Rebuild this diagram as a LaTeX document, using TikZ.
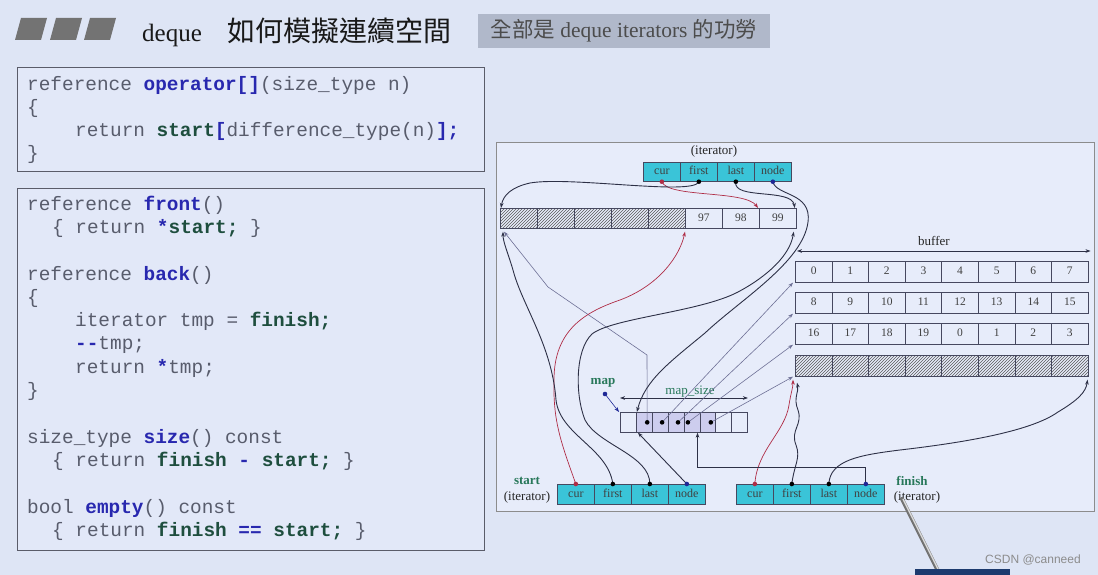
\documentclass[tikz,border=0pt]{standalone}
\usepackage{fontspec}
\setmainfont{Liberation Serif}
\setmonofont{Liberation Mono}
\newfontfamily\cjk{Noto Sans CJK TC}
\newfontfamily\wmfont{Liberation Sans}
\usetikzlibrary{patterns,arrows.meta}
\definecolor{bg}{RGB}{222,229,245}
\definecolor{codebg}{RGB}{226,232,248}
\definecolor{framebg}{RGB}{231,236,250}
\definecolor{boxline}{RGB}{90,92,105}
\definecolor{codegray}{RGB}{88,92,108}
\definecolor{kwblue}{RGB}{40,40,175}
\definecolor{kwgreen}{RGB}{30,78,62}
\definecolor{subbox}{RGB}{176,184,202}
\definecolor{itcyan}{RGB}{58,196,216}
\definecolor{cellline}{RGB}{70,72,95}
\definecolor{darkline}{RGB}{45,48,70}
\definecolor{redline}{RGB}{175,45,70}
\definecolor{blueline}{RGB}{30,40,150}
\definecolor{mapline}{RGB}{110,112,150}
\definecolor{lblgreen}{RGB}{40,120,90}
\definecolor{mapshade}{RGB}{205,205,238}
\newcommand\codefont{\fontsize{19.4}{23}\selectfont\ttfamily}
\newcommand\kwb[1]{\textcolor{kwblue}{\bfseries #1}}
\newcommand\kwg[1]{\textcolor{kwgreen}{\bfseries #1}}
\tikzset{
  code/.style={anchor=west, inner sep=0pt, font=\codefont, text=codegray},
  codebox/.style={draw=boxline, line width=1pt, fill=codebg},
  cellbox/.style={draw=cellline, line width=0.7pt, anchor=north west, inner sep=0pt,
    text height=8pt, text depth=2.5pt,
    font=\fontsize{11.5}{12}\selectfont, text=black!75},
  itcell/.style={cellbox, fill=itcyan, minimum width=37pt, minimum height=19pt,
    font=\fontsize{12}{13}\selectfont},
  bufcell/.style={cellbox, fill=framebg, minimum width=37pt, minimum height=20pt},
  rowcell/.style={cellbox, fill=framebg, minimum width=36.6pt, minimum height=21pt},
  hatchcell/.style={cellbox, preaction={fill=framebg}, pattern=north east lines,
    pattern color=black!65},
  mapcell/.style={cellbox, fill=framebg, minimum width=15.9pt, minimum height=20pt},
  arr/.style={-{Stealth[length=5pt,width=3.6pt]}, line width=0.9pt, draw=darkline},
  rarr/.style={arr, draw=redline, line width=0.7pt},
  marr/.style={-{Stealth[length=5pt,width=3.6pt]}, line width=0.6pt, draw=mapline},
  lbl/.style={inner sep=0pt, font=\fontsize{13}{14}\selectfont, text=black!85},
  glbl/.style={inner sep=0pt, font=\fontsize{13}{14}\selectfont\bfseries, text=lblgreen},
}
\begin{document}
\begin{tikzpicture}[x=1pt,y=-1pt]
\useasboundingbox (0,0) rectangle (1098,575);
\fill[bg] (0,0) rectangle (1098,575);

% header
\foreach \xx in {15,50,84}
  \fill[black!55] (\xx+6,18) -- (\xx+32,18) -- (\xx+26,40) -- (\xx,40) -- cycle;
\node[anchor=west, inner sep=0pt, text=black!90] (title) at (142,32)
  {\fontsize{25}{28}\selectfont deque\hspace{26pt}{\cjk\fontsize{28}{30}\selectfont 如何模擬連續空間}};
\node[fill=subbox, minimum width=292pt, minimum height=34pt, inner sep=0pt,
  text=black!70] (subtitle) at (624,31)
  {\fontsize{21.5}{24}\selectfont{\cjk 全部是} deque iterators {\cjk 的功勞}};

% code boxes
\draw[codebox] (17,68) rectangle (484,172);
\node[code] (c1) at (27,85) {reference \kwb{operator[]}(size\_type n)};
\node[code] (c2) at (27,108) {\{};
\node[code] (c3) at (75,131) {return \kwg{start}\kwb{[}difference\_type(n)\kwb{];}};
\node[code] (c4) at (27,154) {\}};

\draw[codebox] (17,188) rectangle (484,550);
\node[code] (d1) at (27,205) {reference \kwb{front}()};
\node[code] (d2) at (52,228) {\{ return \kwb{*}\kwg{start;} \}};
\node[code] (d3) at (27,275) {reference \kwb{back}()};
\node[code] (d4) at (27,298) {\{};
\node[code] (d5) at (75,321) {iterator tmp = \kwg{finish;}};
\node[code] (d6) at (75,345) {\kwb{-{}-}tmp;};
\node[code] (d7) at (75,368) {return \kwb{*}tmp;};
\node[code] (d8) at (27,391) {\}};
\node[code] (d9) at (27,438) {size\_type \kwb{size}() const};
\node[code] (d10) at (52,461) {\{ return \kwg{finish} \kwb{-} \kwg{start;} \}};
\node[code] (d11) at (27,508) {bool \kwb{empty}() const};
\node[code] (d12) at (52,531) {\{ return \kwg{finish} \kwb{==} \kwg{start;} \}};

% diagram frame
\draw[draw=black!45, line width=0.8pt, fill=framebg] (496,142) rectangle (1094,511);

% top iterator
\node[lbl] (tilbl) at (714,151) {(iterator)};
\foreach \t [count=\i from 0] in {cur,first,last,node}
  \node[itcell] (ti-\t) at ({643+37*\i},162) {\t};

% top buffer
\foreach \i in {0,...,4}
  \node[hatchcell, minimum width=37pt, minimum height=20pt] (tb\i) at ({500+37*\i},208) {};
\node[bufcell] (tb5) at (685,208) {97};
\node[bufcell] (tb6) at (722,208) {98};
\node[bufcell] (tb7) at (759,208) {99};

% buffers on the right
\node[lbl] (buflbl) at (934,241) {buffer};
\foreach \v [count=\i from 0] in {0,1,2,3,4,5,6,7}
  \node[rowcell] (ra\i) at ({795+36.6*\i},261) {\v};
\foreach \v [count=\i from 0] in {8,9,10,11,12,13,14,15}
  \node[rowcell] (rb\i) at ({795+36.6*\i},292) {\v};
\foreach \v [count=\i from 0] in {16,17,18,19,0,1,2,3}
  \node[rowcell] (rc\i) at ({795+36.6*\i},323) {\v};
\foreach \i in {0,...,7}
  \node[hatchcell, minimum width=36.6pt, minimum height=21pt] (rd\i) at ({795+36.6*\i},355) {};
\draw[{Stealth[length=5pt,width=3.6pt]}-{Stealth[length=5pt,width=3.6pt]}, line width=0.6pt, draw=darkline]
  ([xshift=2pt,yshift=10pt]ra0.north west) -- ([xshift=2pt,yshift=10pt]ra7.north east);

% map
\foreach \i in {0,...,7}
  \node[mapcell] (m\i) at ({620+15.9*\i},412) {};
\foreach \i in {1,...,5}
  \node[mapcell, fill=mapshade] (ms\i) at ({620+15.9*\i},412) {};
\node[glbl] (maplbl) at (603,383) {map};
\node[lbl, font=\fontsize{13}{14}\selectfont, text=lblgreen] (mapsz) at (690,392) {map\_size};
\draw[{Stealth[length=5pt,width=3.6pt]}-{Stealth[length=5pt,width=3.6pt]}, line width=0.6pt, draw=darkline]
  ([yshift=14pt]m0.north west) -- ([yshift=14pt]m7.north east);
\coordinate (mapdot) at (605,394);
\draw[marr, draw=blueline] (mapdot) -- ([xshift=-1pt]m0.north west);
\fill[blueline] (mapdot) circle (2.3);

% map pointers
\coordinate (md1) at ([xshift=3pt]ms1.center);
\coordinate (md2) at ([xshift=2pt]ms2.center);
\coordinate (md3) at ([xshift=2pt]ms3.center);
\coordinate (md4) at ([xshift=-4pt]ms4.center);
\coordinate (md5) at ([xshift=3pt]ms5.center);
\draw[marr] (md1) -- (647,355) -- (548,287) -- ([shift={(4pt,-3pt)}]tb0.south west);
\draw[marr] (md2) -- ([xshift=-2pt]ra0.south west);
\draw[marr] (md3) -- ([xshift=-2pt]rb0.south west);
\draw[marr] (md4) -- ([xshift=-2pt]rc0.south west);
\draw[marr] (md5) -- ([xshift=-2pt]rd0.south west);
\foreach \d in {md1,md2,md3,md4,md5} \fill[black] (\d) circle (2.3);

% start / finish iterators
\node[glbl] (startlbl) at (527,481) {start};
\node[lbl] (startit) at (527,497) {(iterator)};
\foreach \t [count=\i from 0] in {cur,first,last,node}
  \node[itcell, minimum height=20pt] (st-\t) at ({557+37*\i},484) {\t};
\node[glbl] (finlbl) at (912,481) {finish};
\node[lbl] (finit) at (917,497) {(iterator)};
\foreach \t [count=\i from 0] in {cur,first,last,node}
  \node[itcell, minimum height=20pt] (fi-\t) at ({736+37*\i},484) {\t};

% top iterator connectors
\draw[rarr] (ti-cur.south) .. controls (668,198) and (745,190) .. ([xshift=-1pt]tb7.north west);
\draw[arr] (ti-first.south) .. controls (694,196) and (570,176) .. (530,183)
  .. controls (512,187) and (503,195) .. ([xshift=1pt]tb0.north west);
\draw[arr] (ti-last.south) .. controls (732,200) and (792,188) .. ([xshift=-2pt]tb7.north east);
\draw[arr] (ti-node.south) .. controls (776,196) and (812,192) .. (808,222)
  .. controls (803,262) and (740,300) .. (705,333)
  .. controls (670,362) and (645,380) .. ([xshift=1pt]m1.north west);

% start iterator connectors
\draw[rarr] (st-cur.north) .. controls (560,440) and (553,420) .. (554,380)
  .. controls (554,330) and (585,312) .. (620,300)
  .. controls (660,285) and (680,255) .. ([yshift=-3pt]tb5.south west);
\draw[arr] (st-first.north) .. controls (608,448) and (560,435) .. (556,400)
  .. controls (552,345) and (522,305) .. (513,270)
  .. controls (507,250) and (503,242) .. ([shift={(3pt,-3pt)}]tb0.south west);
\draw[arr] (st-last.north) .. controls (650,455) and (598,445) .. (585,420)
  .. controls (575,395) and (575,350) .. (592,334)
  .. controls (612,318) and (700,312) .. (738,292)
  .. controls (768,276) and (790,255) .. ([shift={(-3pt,-3pt)}]tb7.south east);
\draw[arr] (st-node.north) -- ([xshift=2pt]m1.south west);

% finish iterator connectors
\draw[rarr] (fi-cur.north) .. controls (757,450) and (785,432) .. (789,405)
  .. controls (791,392) and (793,388) .. ([shift={(-2pt,-3pt)}]rd0.south west);
\draw[arr] (fi-first.north) .. controls (794,465) and (801,458) .. (796,445)
  .. controls (790,430) and (803,425) .. (798,410)
  .. controls (793,398) and (799,392) .. ([shift={(2pt,-6pt)}]rd0.south west);
\draw[arr] (fi-last.north) .. controls (830,460) and (860,455) .. (900,450)
  .. controls (960,443) and (1030,432) .. (1058,412)
  .. controls (1078,400) and (1086,392) .. ([shift={(-1pt,-3pt)}]rd7.south east);
\draw[arr] (fi-node.north) -- ++(0,-17) -| ([xshift=-2pt]m5.south west);

% dots on iterators
\fill[redline] (ti-cur.south) circle (2.3);
\fill[black] (ti-first.south) circle (2.3);
\fill[black] (ti-last.south) circle (2.3);
\fill[blueline] (ti-node.south) circle (2.3);
\foreach \p in {st,fi} {
  \fill[redline] (\p-cur.north) circle (2.3);
  \fill[black] (\p-first.north) circle (2.3);
  \fill[black] (\p-last.north) circle (2.3);
  \fill[blueline] (\p-node.north) circle (2.3);
}

% photo artifacts: pointer stick and watermark
\draw[line width=4pt, black!55, line cap=round] (902,499) -- (940,575);
\draw[line width=1.5pt, white!85!black] (903,499) -- (941,575);
\fill[fill={rgb,255:red,28;green,58;blue,110}] (915,569) rectangle (1010,575);
\node[inner sep=0pt, text=black!45, font=\wmfont\fontsize{12}{13}\selectfont] (wm) at (1033,560) {CSDN @canneed};
\end{tikzpicture}
\end{document}
